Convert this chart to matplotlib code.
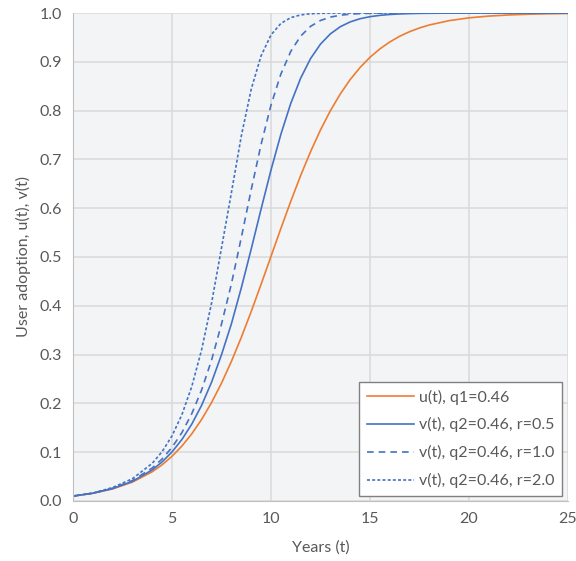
import matplotlib
matplotlib.use("Agg")
import matplotlib.pyplot as plt

# years (finer steps where the curves bend)
years = [0, 1, 2, 3, 4, 4.5, 5, 5.5, 6, 6.5, 7, 7.5, 8, 8.5, 9, 9.5, 10,
         10.5, 11, 11.5, 12, 12.5, 13, 13.5, 14, 14.5, 15, 15.5, 16, 16.5, 17, 17.5,
         18, 19, 20, 21, 22, 23, 24, 25]

u_q1 = [0.010, 0.0157, 0.0247, 0.0386, 0.0598, 0.0741, 0.0915, 0.1125, 0.1376, 0.1673,
        0.2018, 0.2414, 0.2860, 0.3351, 0.3881, 0.4440, 0.5012, 0.5585, 0.6142, 0.6671,
        0.7160, 0.7604, 0.7998, 0.8341, 0.8636, 0.8884, 0.9093, 0.9265, 0.9407, 0.9524,
        0.9618, 0.9694, 0.9755, 0.9844, 0.9901, 0.9937, 0.9960, 0.9975, 0.9984, 0.9990]

v_r05 = [0.010, 0.0159, 0.0254, 0.0402, 0.0636, 0.0800, 0.1004, 0.1259, 0.1575, 0.1963,
         0.2435, 0.2996, 0.3630, 0.4366, 0.5161, 0.5982, 0.6781, 0.7515, 0.8149, 0.8666,
         0.9067, 0.9363, 0.9573, 0.9719, 0.9818, 0.9883, 0.9925, 0.9952, 0.9970, 0.9981,
         0.9988, 0.9993, 0.9995, 0.9998, 0.9999, 1.0, 1.0, 1.0, 1.0, 1.0]

v_r10 = [0.010, 0.0159, 0.0260, 0.0418, 0.0675, 0.0860, 0.1097, 0.1401, 0.1789, 0.2278,
         0.2888, 0.3624, 0.4447, 0.5396, 0.6376, 0.7307, 0.8112, 0.8750, 0.9215, 0.9528,
         0.9727, 0.9847, 0.9916, 0.9955, 0.9976, 0.9988, 0.9994, 0.9999, 0.9999, 1.0,
         1.0, 1.0, 1.0, 1.0, 1.0, 1.0, 1.0, 1.0, 1.0, 1.0]

v_r20 = [0.010, 0.0162, 0.0275, 0.0456, 0.0770, 0.1010, 0.1333, 0.1767, 0.2346, 0.3104,
         0.4058, 0.5183, 0.6316, 0.7477, 0.8437, 0.9123, 0.9550, 0.9787, 0.9906, 0.9961,
         0.9985, 0.9994, 0.9998, 0.9999, 1.0, 1.0, 1.0, 1.0, 1.0, 1.0,
         1.0, 1.0, 1.0, 1.0, 1.0, 1.0, 1.0, 1.0, 1.0, 1.0]

labels = ["u(t), q1=0.46", "v(t), q2=0.46, r=0.5",
          "v(t), q2=0.46, r=1.0", "v(t), q2=0.46, r=2.0"]

orange = '#ED7D31'
blue = '#4472C4'
text_col = '#595959'
grid_col = '#d9d9d9'

plt.rcParams['font.family'] = ['Lato', 'DejaVu Sans']

fig = plt.figure(figsize=(5.76, 5.61), dpi=100)
ax = fig.add_axes([0.1267, 0.1070, 0.8594, 0.8698])
ax.set_facecolor('#f3f4f6')

ax.plot(years, u_q1, color=orange, lw=1.2, label=labels[0])
ax.plot(years, v_r05, color=blue, lw=1.2, label=labels[1])
ax.plot(years, v_r10, color=blue, lw=1.2, dashes=(4, 3), label=labels[2])
ax.plot(years, v_r20, color=blue, lw=1.2, dashes=(1.8, 1.3), label=labels[3])

ax.set_xlim(0, 25)
ax.set_ylim(0, 1)
ax.set_xticks([0, 5, 10, 15, 20, 25])
ax.set_yticks([i / 10 for i in range(11)])
ax.set_yticklabels([f"{i / 10:.1f}" for i in range(11)])
ax.grid(color=grid_col, lw=1.1)
ax.set_axisbelow(True)
for side in ['top', 'right']:
    ax.spines[side].set_visible(False)
for side in ['left', 'bottom']:
    ax.spines[side].set_color('#bfbfbf')
ax.tick_params(length=0, labelsize=11.5, labelcolor=text_col, pad=8)

ax.set_xlabel('Years (t)', fontsize=11.5, color=text_col, labelpad=10)
ax.set_ylabel('User adoption, u(t), v(t)', fontsize=11.5, color=text_col, labelpad=6)

leg = ax.legend(loc='lower right', bbox_to_anchor=(0.988, 0.010), borderaxespad=0,
                fontsize=11.5, handlelength=2.9, handletextpad=0.3, labelspacing=0.8,
                borderpad=0.5, fancybox=False, framealpha=1, edgecolor='#808080')
leg.get_frame().set_linewidth(1.0)
for t in leg.get_texts():
    t.set_color(text_col)

fig.savefig('out.png', dpi=100)
